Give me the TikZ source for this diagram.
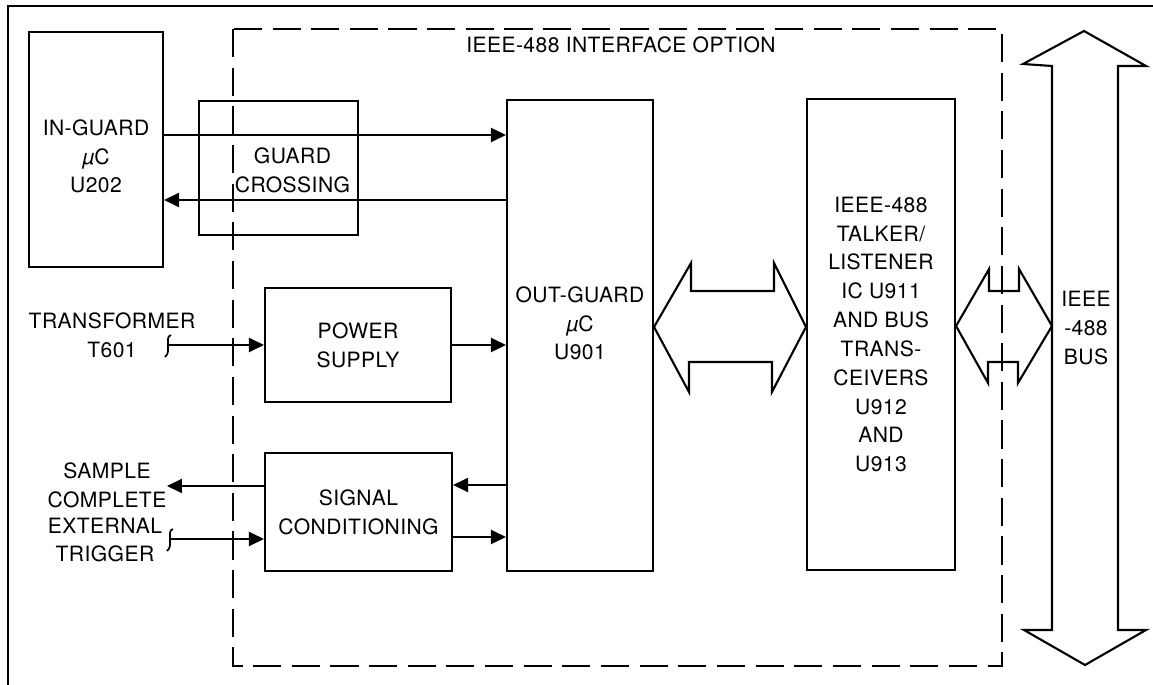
\documentclass[tikz,border=0pt]{standalone}
\usepackage{fontspec}
\setmainfont[LetterSpace=2]{TeX Gyre Heros}
\usetikzlibrary{arrows.meta}

\begin{document}
\begin{tikzpicture}[x=0.02cm, y=-0.02cm,
    every node/.style={font=\fontsize{12}{16.4}\selectfont},
    box/.style={draw, line width=1.2pt, align=center, inner sep=0pt},
    lbl/.style={align=center, inner sep=0pt},
    arr/.style={-{Triangle[length=3mm, width=2.8mm]}, line width=1.2pt},
    fat/.style={line width=1.2pt, line join=miter},
    optbox/.style={line width=0.8pt, dash pattern=on 16pt off 6pt},
    brk/.pic={\draw[line width=1pt] (3,-10) .. controls (-1,-9) and (0,-4) .. (0,0)
               .. controls (0,4) and (1,9) .. (-3,12);}
  ]
    \useasboundingbox (0,0) rectangle (1153,685);
    \draw[line width=1pt] (1153,6) -- (8,6) -- (8,685);
    \draw[optbox] (233,29) rectangle (1002,666);
    \node[lbl] (opt) at (621,45) {IEEE-488 INTERFACE OPTION};

    \node[box, minimum width=2.68cm, minimum height=4.7cm,
      label={[lbl, name=igt, yshift=-0.14cm]center:{IN-GUARD\\{\itshape µ}C\\U202}}] (ig) at (96,149.5) {};
    \node[box, minimum width=3.18cm, minimum height=2.68cm,
      label={[lbl, name=gct, xshift=0.28cm, yshift=-0.04cm]center:{GUARD\\CROSSING}}] (gc) at (278.5,168) {};
    \node[box, minimum width=2.92cm, minimum height=9.42cm,
      label={[lbl, name=ogt, yshift=0.24cm]center:{OUT-GUARD\\{\itshape µ}C\\U901}}] (og) at (580,335.5) {};
    \node[box, minimum width=2.96cm, minimum height=9.42cm] (tl) at (881,334.5)
      {IEEE-488\\TALKER/\\LISTENER\\IC U911\\AND BUS\\TRANS-\\CEIVERS\\U912\\AND\\U913};
    \node[box, minimum width=3.72cm, minimum height=2.28cm] (ps) at (358,345) {POWER\\SUPPLY};
    \node[box, minimum width=3.74cm, minimum height=2.36cm] (sc) at (358.5,512) {SIGNAL\\CONDITIONING};

    \node[lbl] (tf) at (112,335) {TRANSFORMER\\T601};
    \node[lbl] (sm) at (107,485) {SAMPLE\\COMPLETE};
    \node[lbl] (et) at (105,540) {EXTERNAL\\TRIGGER};
    \node[lbl] (bus) at (1086,328) {IEEE\\-488\\BUS};

    \draw[arr] (ig.east |- 0,135) -- (og.west |- 0,135);
    \draw[arr] (og.west |- 0,200) -- (ig.east |- 0,200);
    \coordinate (tsq) at (168,345);
    \pic at (tsq) {brk};
    \draw[arr] (tsq) -- (ps.west);
    \draw[arr] (ps.east) -- (ps.east -| og.west);
    \draw[arr] (og.west |- 0,485) -- (sc.east |- 0,485);
    \draw[arr] (sc.east |- 0,537) -- (og.west |- 0,537);
    \coordinate (scout) at (167,486);
    \draw[arr] (sc.west |- scout) -- (scout);
    \coordinate (etsq) at (170,539);
    \pic at (etsq) {brk};
    \draw[arr] (etsq) -- (sc.west |- etsq);

    \coordinate (busl) at (1052,326);
    \draw[fat] (og.east |- 0,327) -- ++(37,-64) -- ++(0,28) -- ++(83,0) -- ++(0,-28)
      -- (tl.west |- 0,327) -- ++(-34,65) -- ++(0,-30) -- ++(-83,0) -- ++(0,30) -- cycle;
    \draw[fat] (tl.east |- busl) -- ++(33,-57) -- ++(0,22) -- ++(30,0) -- ++(0,-22)
      -- (busl) -- ++(-34,57) -- ++(0,-21) -- ++(-30,0) -- ++(0,21) -- cycle;
    \draw[fat] (1084,31) -- (1146,66) -- (1118,66) -- (1118,630) -- (1146,630) -- (1085,665)
      -- (1024,630) -- (1052,630) -- (1052,66) -- (1023,64) -- cycle;
  \end{tikzpicture}
\end{document}
